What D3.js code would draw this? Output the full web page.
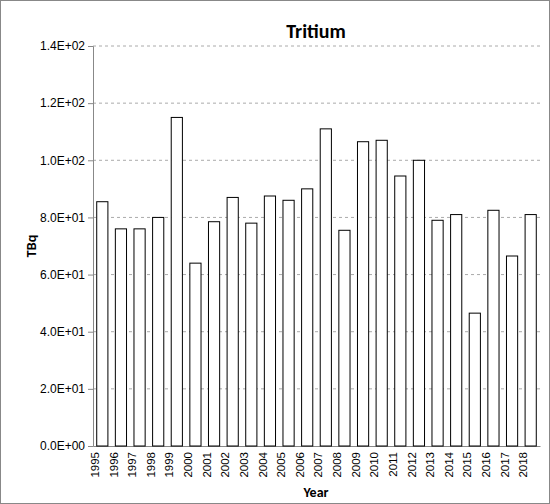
<!DOCTYPE html>
<html><head><meta charset="utf-8">
<script src="https://cdn.jsdelivr.net/npm/d3@7"></script>
<style>body{margin:0;background:#fff}svg{font-family:Calibri,Carlito,"Liberation Sans",Arial,sans-serif}</style>
</head><body><svg id="c" width="550" height="504"></svg>
<script>
const years = ["1995","1996","1997","1998","1999","2000","2001","2002","2003","2004","2005","2006","2007","2008","2009","2010","2011","2012","2013","2014","2015","2016","2017","2018"];
const values = [85.5,76,76,80,115,64,78.5,87,78,87.5,86,90,111,75.5,106.5,107,94.5,100,79,81,46.5,82.5,66.5,81];
const yTicks = [0,20,40,60,80,100,120,140];

const svg = d3.select("#c");
svg.append("rect").attr("x",0.5).attr("y",0.5).attr("width",549).attr("height",503)
  .attr("fill","#fff").attr("stroke","#888");
const m = {l:93, r:540, t:46, b:446};
const x = d3.scaleBand().domain(years).range([m.l,m.r]).paddingInner(0.4).paddingOuter(0.2);
const y = d3.scaleLinear().domain([0,140]).range([m.b,m.t]);
const fmt = v => { if(v===0) return "0.0E+00"; const e=Math.floor(Math.log10(v)); return (v/10**e).toFixed(1)+"E+"+String(e).padStart(2,"0"); };

svg.append("g").selectAll("line").data(yTicks.slice(1)).join("line")
  .attr("x1",m.l).attr("x2",m.r).attr("y1",d=>y(d)).attr("y2",d=>y(d))
  .attr("stroke","#aaa").attr("stroke-dasharray","3,3");

const ya = svg.append("g").attr("transform",`translate(${m.l},0)`)
  .call(d3.axisLeft(y).tickValues(yTicks).tickFormat(fmt).tickSize(5));
ya.selectAll("text").attr("font-size",12).attr("fill","#000");
ya.selectAll("line,path").attr("stroke","#888");

const xa = svg.append("g").attr("transform",`translate(0,${m.b})`)
  .call(d3.axisBottom(x).tickSize(0));
xa.select("path").attr("stroke","#888");
xa.selectAll("text").attr("font-size",11.5).attr("fill","#000")
  .attr("transform","rotate(-90)").attr("text-anchor","end").attr("dx","-4").attr("dy","-0.3em").attr("y",0).attr("x",-2);

svg.append("g").selectAll("rect").data(values).join("rect")
  .attr("x",(d,i)=>x(years[i])).attr("width",x.bandwidth())
  .attr("y",d=>y(d)).attr("height",d=>m.b-y(d))
  .attr("fill","#fff").attr("stroke","#000").attr("stroke-width",1);

svg.append("text").attr("x",316).attr("y",38).attr("text-anchor","middle")
  .attr("font-size",20).attr("font-weight","bold").text("Tritium");
svg.append("text").attr("x",316).attr("y",497).attr("text-anchor","middle")
  .attr("font-size",14).attr("font-weight","bold").text("Year");
svg.append("text").attr("transform","translate(36,246) rotate(-90)").attr("text-anchor","middle")
  .attr("font-size",14).attr("font-weight","bold").text("TBq");
</script></body></html>
